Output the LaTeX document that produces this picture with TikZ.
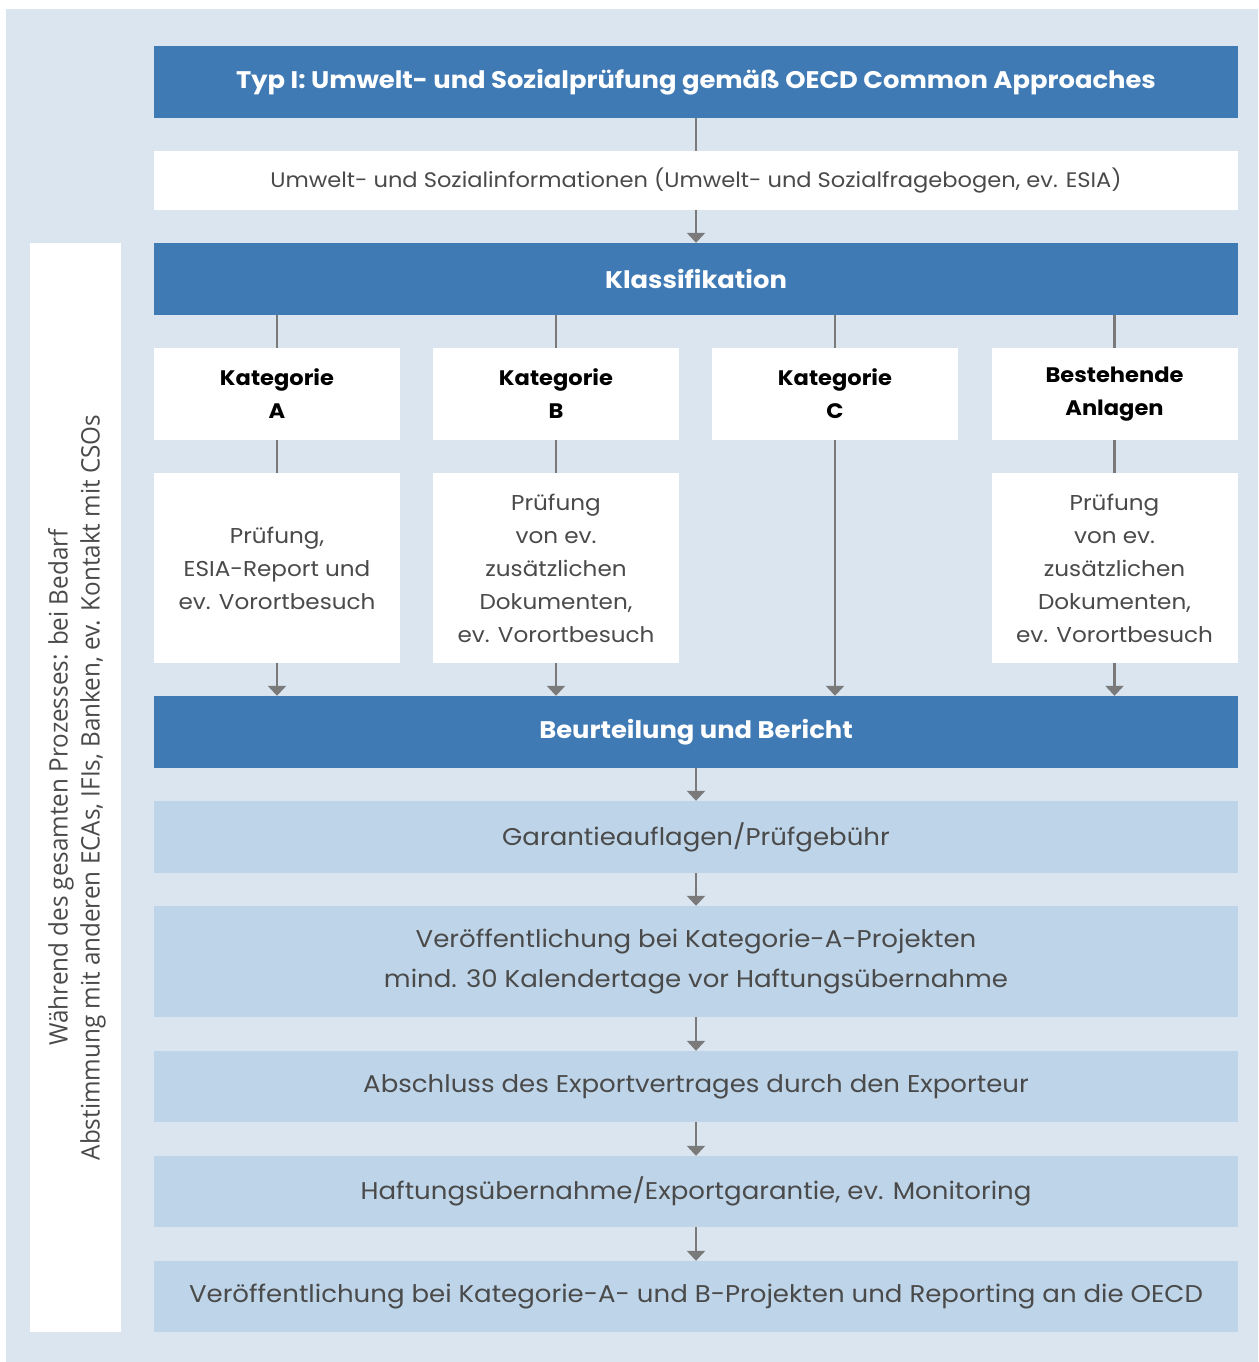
\documentclass[tikz,border=0pt]{standalone}
\usepackage{fontspec}
\setmainfont[FakeStretch=1.075]{Poppins}
\newfontfamily\sidefont[FakeStretch=0.95]{Open Sans}
\usetikzlibrary{arrows.meta}

\definecolor{pagebg}{HTML}{DAE5F0}
\definecolor{darkblue}{HTML}{3F7AB5}
\definecolor{paleblue}{HTML}{BED4E8}
\definecolor{connector}{HTML}{7A7A7A}
\definecolor{bodytext}{HTML}{4A4A4A}

\tikzset{
  box/.style={rectangle, inner sep=0pt, align=center, minimum width=1084pt},
  headbox/.style={box, fill=darkblue, minimum height=72pt, text=white,
    font=\fontsize{24}{28}\selectfont\bfseries},
  infobox/.style={box, fill=white, minimum height=59pt, text=bodytext,
    font=\fontsize{21}{24}\selectfont},
  catbox/.style={rectangle, inner sep=0pt, align=center, fill=white,
    minimum width=246pt, minimum height=92pt, text=black,
    font=\fontsize{21}{33}\selectfont\bfseries},
  detailbox/.style={rectangle, inner sep=0pt, align=center, fill=white,
    minimum width=246pt, minimum height=190pt, text=bodytext,
    font=\fontsize{21.5}{33}\selectfont},
  stepbox/.style={box, fill=paleblue, text=bodytext,
    font=\fontsize{24.2}{40}\selectfont},
  link/.style={draw=connector, line width=2.6pt},
  flow/.style={link, -{Triangle[width=18pt,length=10pt]}},
}

\begin{document}
\begin{tikzpicture}[x=1pt, y=-1pt]
  % canvas and outer light panel
  \fill[white] (0,0) rectangle (1258,1362);
  \fill[pagebg] (6,9) rectangle (1258,1362);
  \useasboundingbox (0,0) rectangle (1258,1362);

  % side panel with rotated remark
  \node[rectangle, fill=white, inner sep=0pt, minimum width=91pt,
        minimum height=1089pt] (side) at (75.5,787.5) {};
  \node[rotate=90, align=center, text=bodytext,
        font=\sidefont\fontsize{25.5}{32}\selectfont] (sidetext) at (77,787.5)
    {Während des gesamten Prozesses: bei Bedarf\\
     Abstimmung mit anderen ECAs, IFIs, Banken, ev. Kontakt mit CSOs};

  % main column
  \node[headbox] (title) at (696,82)
    {\raisebox{-2pt}{Typ I: Umwelt- und Sozialprüfung gemäß OECD Common Approaches}};
  \node[infobox] (info) at (696,180.5)
    {Umwelt- und Sozialinformationen (Umwelt- und Sozialfragebogen, ev. ESIA)};
  \node[headbox] (klass) at (696,279) {Klassifikation};

  \node[catbox] (catA) at (277,394) {Kategorie\\A};
  \node[catbox] (catB) at (556,394) {Kategorie\\B};
  \node[catbox] (catC) at (835,394) {Kategorie\\C};
  \node[catbox] (catD) at (1114.5,394) {Bestehende\\Anlagen};

  \node[detailbox] (detA) at (277,568)
    {Prüfung,\\ESIA-Report und\\ev. Vorortbesuch};
  \node[detailbox] (detB) at (556,568)
    {Prüfung\\von ev.\\zusätzlichen\\Dokumenten,\\ev. Vorortbesuch};
  \node[detailbox] (detD) at (1114.5,568)
    {Prüfung\\von ev.\\zusätzlichen\\Dokumenten,\\ev. Vorortbesuch};

  \node[headbox] (beurt) at (696,732)
    {\raisebox{-2pt}{Beurteilung und Bericht}};

  \node[stepbox, minimum height=72pt] (garant) at (696,837)
    {Garantieauflagen/Prüfgebühr};
  \node[stepbox, minimum height=111pt] (publA) at (696,961.5)
    {Veröffentlichung bei Kategorie-A-Projekten\\
     mind. 30 Kalendertage vor Haftungsübernahme};
  \node[stepbox, minimum height=71pt] (vertrag) at (696,1086.5)
    {Abschluss des Exportvertrages durch den Exporteur};
  \node[stepbox, minimum height=71pt] (haftung) at (696,1191.5)
    {Haftungsübernahme/Exportgarantie, ev. Monitoring};
  \node[stepbox, minimum height=71pt] (publAB) at (696,1296.5)
    {Veröffentlichung bei Kategorie-A- und B-Projekten und Reporting an die OECD};

  % connectors
  \draw[link] (title) -- (info);
  \draw[flow] (info) -- (klass);

  \draw[link] (klass.south -| catA) -- (catA);
  \draw[link] (klass.south -| catB) -- (catB);
  \draw[link] (klass.south -| catC) -- (catC);
  \draw[link] (klass.south -| catD) -- (catD);

  \draw[link] (catA) -- (detA);
  \draw[link] (catB) -- (detB);
  \draw[link] (catD) -- (detD);

  \draw[flow] (detA) -- (beurt.north -| detA);
  \draw[flow] (detB) -- (beurt.north -| detB);
  \draw[flow] (catC) -- (beurt.north -| catC);
  \draw[flow] (detD) -- (beurt.north -| detD);

  \draw[flow] (beurt) -- (garant);
  \draw[flow] (garant) -- (publA);
  \draw[flow] (publA) -- (vertrag);
  \draw[flow] (vertrag) -- (haftung);
  \draw[flow] (haftung) -- (publAB);
\end{tikzpicture}
\end{document}
